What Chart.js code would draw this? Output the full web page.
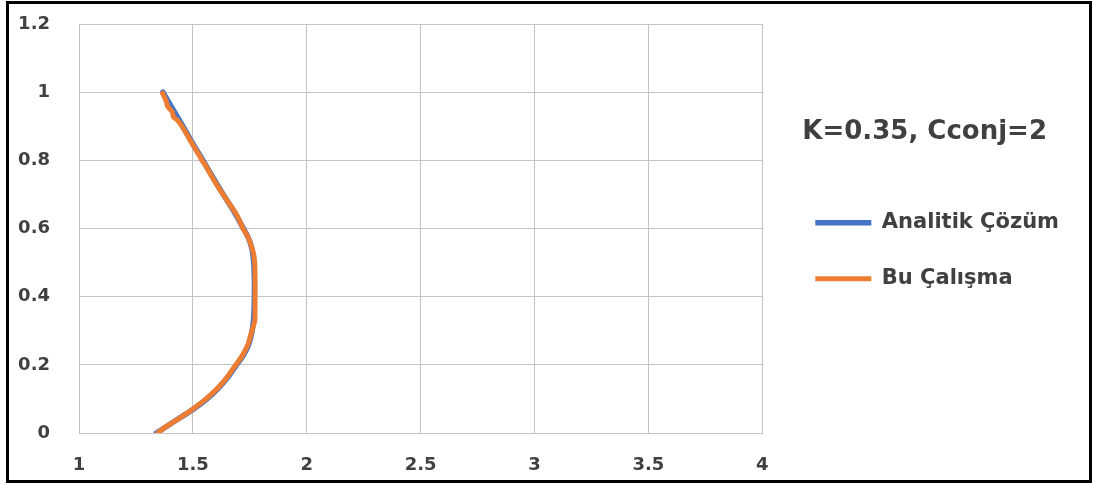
<!DOCTYPE html>
<html>
<head>
<meta charset="utf-8">
<script src="https://cdn.jsdelivr.net/npm/chart.js@4/dist/chart.umd.min.js"></script>
<style>
  html, body { margin: 0; padding: 0; background: #fff; }
  #wrap { position: relative; width: 1093px; height: 484px; }
  #frame { position: absolute; left: 6px; top: 1px; width: 1080px; height: 476px; border: 3px solid #000; pointer-events: none; }
  canvas { position: absolute; left: 0; top: 0; }
</style>
</head>
<body>
<div id="wrap">
  <canvas id="c" width="1093" height="484"></canvas>
  <div id="frame"></div>
</div>
<script>
const chartTitle = "K=0.35, Cconj=2";
const seriesNames = ["Analitik Çözüm", "Bu Çalışma"];
const xTicks = [1, 1.5, 2, 2.5, 3, 3.5, 4];
const yTicks = [0, 0.2, 0.4, 0.6, 0.8, 1, 1.2];

const analitikY = [0, 0.038, 0.069, 0.10, 0.131, 0.165, 0.20, 0.224, 0.26, 0.292, 0.33, 0.37, 0.41, 0.45, 0.49, 0.52, 0.546, 0.575, 0.60, 0.65, 0.70, 0.75, 0.80, 0.845, 0.90, 0.95, 1.0];
const analitikX = [1.34, 1.428, 1.50, 1.562, 1.611, 1.655, 1.691, 1.718, 1.745, 1.758, 1.766, 1.769, 1.77, 1.77, 1.768, 1.764, 1.757, 1.742, 1.722, 1.68, 1.633, 1.588, 1.544, 1.503, 1.456, 1.412, 1.368];

const calismaY = [0, 0.02, 0.038, 0.069, 0.10, 0.131, 0.165, 0.20, 0.224, 0.26, 0.292, 0.32, 0.33, 0.37, 0.41, 0.45, 0.49, 0.52, 0.546, 0.575, 0.60, 0.63, 0.65, 0.70, 0.73, 0.75, 0.78, 0.80, 0.82, 0.845, 0.874, 0.90, 0.918, 0.928, 0.942, 0.957, 0.975, 0.997];
const calismaX = [1.345, 1.385, 1.428, 1.497, 1.558, 1.608, 1.652, 1.688, 1.714, 1.742, 1.756, 1.768, 1.772, 1.773, 1.773, 1.773, 1.772, 1.768, 1.758, 1.742, 1.72, 1.70, 1.683, 1.632, 1.603, 1.585, 1.56, 1.54, 1.523, 1.5, 1.475, 1.452, 1.432, 1.414, 1.41, 1.39, 1.382, 1.367];

const toPts = (xs, ys) => xs.map((x, i) => ({ x: x, y: ys[i] }));
const textColor = '#404040';
const gridColor = '#c4c4c4';
const fam = '"DejaVu Sans", sans-serif';

new Chart(document.getElementById('c'), {
  type: 'scatter',
  data: {
    datasets: [
      { label: seriesNames[0], data: toPts(analitikX, analitikY), showLine: true, borderColor: '#4472C4', backgroundColor: '#4472C4', borderWidth: 5.5, pointRadius: 0, tension: 0.3, borderCapStyle: 'round', borderJoinStyle: 'round', order: 1 },
      { label: seriesNames[1], data: toPts(calismaX, calismaY), showLine: true, borderColor: '#ED7D31', backgroundColor: '#ED7D31', borderWidth: 5, pointRadius: 0, tension: 0.15, borderCapStyle: 'round', borderJoinStyle: 'round', order: 0 }
    ]
  },
  options: {
    responsive: false,
    animation: false,
    layout: { padding: { left: 18, right: 24, top: 24, bottom: 7 } },
    scales: {
      x: {
        type: 'linear', min: xTicks[0], max: xTicks[xTicks.length - 1],
        afterBuildTicks: s => { s.ticks = xTicks.map(v => ({ value: v })); },
        afterFit: s => { s.height = 44; },
        ticks: { padding: 22, color: textColor, font: { family: fam, size: 18, weight: 'bold' }, callback: v => String(v) },
        grid: { color: gridColor, drawTicks: false, lineWidth: 1 },
        border: { color: gridColor }
      },
      y: {
        type: 'linear', min: yTicks[0], max: yTicks[yTicks.length - 1],
        afterBuildTicks: s => { s.ticks = yTicks.map(v => ({ value: v })); },
        afterFit: s => { s.width = 61; s.paddingTop = 0; s.paddingBottom = 0; },
        ticks: { padding: 29, color: textColor, font: { family: fam, size: 18, weight: 'bold' }, callback: v => String(v) },
        grid: { color: gridColor, drawTicks: false, lineWidth: 1 },
        border: { color: gridColor }
      },
      gap: {
        axis: 'y', position: 'right', display: true,
        grid: { display: false }, ticks: { display: false }, border: { display: false },
        afterFit: s => { s.width = 18; s.paddingTop = 0; s.paddingBottom = 0; }
      }
    },
    plugins: {
      tooltip: { enabled: false },
      legend: {
        position: 'right',
        align: 'start',
        maxWidth: 340,
        title: { display: true, text: chartTitle, color: textColor, position: 'center', padding: { top: 95, bottom: 27 }, font: { family: fam, size: 26, weight: 'bold' } },
        labels: {
          usePointStyle: true, pointStyle: 'line', pointStyleWidth: 56,
          padding: 35, color: textColor,
          font: { family: fam, size: 21, weight: 'bold' },
          sort: (a, b) => a.datasetIndex - b.datasetIndex
        }
      }
    }
  }
});
</script>
</body>
</html>
